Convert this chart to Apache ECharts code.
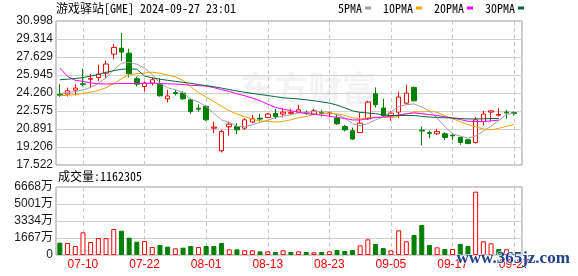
<!DOCTYPE html>
<html>
<head>
<meta charset="utf-8">
<script src="https://cdn.jsdelivr.net/npm/echarts@6/dist/echarts.min.js"></script>
<style>
html,body{margin:0;padding:0;background:#fff;}
#c{width:578px;height:276px;}
</style>
</head>
<body>
<div id="c"></div>
<script>
// ---- data ----
const dates = ['07-05','07-08','07-09','07-10','07-11','07-12','07-15','07-16','07-17','07-18',
  '07-19','07-22','07-23','07-24','07-25','07-26','07-29','07-30','07-31','08-01',
  '08-02','08-05','08-06','08-07','08-08','08-09','08-12','08-13','08-14','08-15',
  '08-16','08-19','08-20','08-21','08-22','08-23','08-26','08-27','08-28','08-29',
  '08-30','09-03','09-04','09-05','09-06','09-09','09-10','09-11','09-12','09-13',
  '09-16','09-17','09-18','09-19','09-20','09-23','09-24','09-25','09-26','09-27'];

// [open, close, low, high]
const candles = [
  [24.14,24.05,23.91,25.09],[24.16,24.47,23.93,24.77],[24.53,24.72,24.03,25.09],[25.12,25.07,24.87,26.52],
  [25.55,25.60,24.72,26.03],[25.71,26.03,25.40,26.90],[26.12,26.97,25.65,27.27],[27.90,28.52,27.43,28.83],
  [28.46,28.09,27.27,29.87],[27.99,26.06,25.71,28.40],[25.59,25.09,24.87,25.80],[24.87,25.19,24.40,25.34],
  [25.19,25.50,24.96,25.71],[25.09,24.00,23.93,25.65],[23.72,23.98,23.37,24.56],[24.30,24.20,24.03,24.56],
  [24.25,23.72,23.62,24.42],[23.62,22.53,22.31,23.78],[22.84,22.74,22.50,23.20],[23.00,21.75,21.66,23.10],
  [20.97,21.07,20.51,21.59],[18.85,20.66,18.69,20.81],[21.10,21.35,20.28,21.59],[21.12,20.81,20.41,21.44],
  [20.97,21.75,20.81,21.91],[21.54,21.85,21.44,22.22],[21.90,21.82,21.59,22.31],[21.97,22.29,21.89,22.38],
  [22.34,22.06,21.82,22.78],[22.29,22.47,21.97,22.85],[22.36,22.45,22.22,22.78],[22.47,22.69,22.38,23.16],
  [22.45,22.38,22.22,22.62],[22.29,22.59,22.22,22.78],[22.43,22.36,22.06,22.69],[22.32,22.40,22.00,22.50],
  [21.91,21.38,21.28,22.29],[21.12,20.81,20.66,21.28],[20.72,19.95,19.88,21.03],[20.56,21.44,20.51,22.38],
  [21.85,23.41,21.75,23.53],[24.19,23.16,22.90,24.78],[22.85,22.15,22.01,23.72],[22.13,22.38,21.66,22.59],
  [22.47,23.88,21.91,24.40],[23.31,24.25,23.16,25.03],[24.78,23.53,23.46,24.87],[20.78,20.70,19.35,21.12],
  [20.55,20.48,20.04,20.72],[20.44,20.66,20.35,20.91],[20.44,20.10,19.88,20.60],[20.32,20.25,19.88,20.51],
  [20.10,19.63,19.41,20.19],[19.88,19.53,19.47,19.94],[19.63,21.75,19.53,22.00],[21.59,22.29,21.22,22.59],
  [22.47,22.59,21.59,22.62],[22.18,22.25,22.06,22.85],[22.47,22.40,21.85,22.69],[22.42,22.36,22.15,22.53]
];

const ma5 = [24.20,24.30,24.40,24.55,24.78,25.18,25.68,26.44,27.04,27.13,
  26.95,26.59,25.99,25.17,24.75,24.57,24.28,23.69,23.43,22.99,
  22.36,21.75,21.51,21.13,21.13,21.28,21.52,21.70,21.95,22.10,
  22.22,22.39,22.41,22.52,22.49,22.48,22.22,21.91,21.38,21.20,
  21.40,21.75,22.02,22.51,23.00,23.16,23.24,22.95,22.57,21.92,
  21.09,20.44,20.22,20.03,20.25,20.69,21.16,21.68,22.26,22.38];
const ma10 = [24.00,24.05,24.12,24.22,24.35,24.50,24.75,25.15,25.60,25.96,
  26.06,26.13,26.21,26.11,25.94,25.76,25.44,24.84,24.30,23.87,
  23.47,23.02,22.60,22.28,22.06,21.82,21.63,21.61,21.54,21.61,
  21.75,21.95,22.06,22.24,22.30,22.35,22.31,22.16,21.95,21.85,
  21.94,21.99,21.97,21.94,22.10,22.28,22.50,22.49,22.54,22.46,
  22.13,21.84,21.59,21.30,21.09,20.89,20.80,20.95,21.15,21.32];
const ma20 = [26.60,25.80,25.45,25.35,25.20,25.12,25.10,25.12,25.15,25.15,
  25.15,25.17,25.17,25.15,25.12,25.10,25.05,24.98,24.95,24.91,
  24.77,24.57,24.41,24.19,24.00,23.79,23.53,23.22,22.92,22.74,
  22.61,22.48,22.33,22.26,22.18,22.09,21.97,21.88,21.74,21.73,
  21.85,21.97,22.01,22.09,22.20,22.32,22.40,22.32,22.24,22.15,
  22.04,21.91,21.78,21.62,21.59,21.59,21.65,21.72,null,null];
const ma30 = [25.50,25.55,25.62,25.70,25.85,25.98,26.20,26.35,26.48,26.51,
  26.48,25.85,25.68,25.55,25.45,25.35,25.26,25.17,25.05,24.95,
  24.85,24.72,24.58,24.45,24.33,24.22,24.12,24.02,23.92,23.81,
  23.76,23.70,23.62,23.54,23.43,23.31,23.13,22.87,22.60,22.44,
  22.39,22.32,22.21,22.15,22.15,22.15,22.15,22.08,22.01,21.97,
  21.94,21.93,21.87,21.83,21.83,21.84,21.87,21.87,null,null];

// volume in 万 shares, and direction (1 = up/red, 0 = down/green)
const volume = [1209,1177,883,2223,1275,1667,1650,2550,2386,1700,
  1307,1373,785,981,817,654,719,883,785,883,
  883,1177,556,556,458,458,360,360,294,458,
  294,360,294,261,294,360,490,392,490,948,
  1536,1079,686,458,2418,1340,1961,2942,980,752,
  588,588,1079,883,6210,1340,1144,588,556,116];
const volumeUp = [0,1,1,1,1,1,1,1,0,0, 0,1,1,0,0,1,0,0,1,0,
  0,0,1,0,1,1,0,1,0,1, 0,1,0,1,0,1,0,0,0,1,
  1,0,0,1,1,1,0,0,0,1, 0,1,0,0,1,1,1,0,1,0];

const dateTicks = ['07-10','07-22','08-01','08-13','08-23','09-05','09-17','09-27'];
const priceTicks = ['17.522','19.206','20.891','22.575','24.260','25.945','27.629','29.314','30.998'];
const volTicks = ['0','1667万','3334万','5001万','6668万'];
const volTickStep = 1667;
const maNames = ['5PMA','10PMA','20PMA','30PMA'];
const titleText = '游戏驿站[GME] 2024-09-27 23:01';
const volText = '成交量:1162305';

// ---- styles ----
const RED = '#ff0000', GREEN = '#008000';
const maColors = ['#a0a0a0','#f5a300','#ff00ff','#07683a'];
const monoCJK = '"Noto Sans Mono CJK SC","Noto Sans CJK SC","Liberation Mono",monospace';
const axisFont = '"Liberation Sans","Noto Sans CJK SC",sans-serif';

const chart = echarts.init(document.getElementById('c'), null, {renderer: 'canvas'});
const tickInterval = (idx) => dateTicks.indexOf(dates[idx]) >= 0;
const dashed = {show: true, interval: tickInterval, alignWithLabel: true,
  lineStyle: {color: '#c8c8c8', width: 1, type: [4, 3]}};
const solidSplit = {show: true, lineStyle: {color: '#d0d0d0', width: 1, type: 'solid'}};

const option = {
  animation: false,
  backgroundColor: '#fff',
  legend: {
    data: maNames.map((n, i) => ({name: n, itemStyle: {color: maColors[i]}})),
    left: 338, top: 2, padding: 0,
    align: 'right', icon: 'rect', itemWidth: 6, itemHeight: 3, itemGap: 12,
    textStyle: {fontSize: 12, color: '#000', fontFamily: monoCJK, padding: [0, -2, 0, 0]},
    selectedMode: false
  },
  grid: [
    {left: 56, top: 21, width: 466, height: 144, show: true, borderColor: '#999', borderWidth: 1},
    {left: 56, top: 21, width: 462, height: 144},
    {left: 56, top: 187, width: 466, height: 68, show: true, borderColor: '#999', borderWidth: 1},
    {left: 56, top: 187, width: 462, height: 68}
  ],
  xAxis: [
    {gridIndex: 0, type: 'value', min: 0, max: 1, show: false},
    {gridIndex: 1, type: 'category', data: dates, boundaryGap: true,
      axisLine: {show: false}, axisTick: {show: false}, axisLabel: {show: false}, splitLine: dashed},
    {gridIndex: 2, type: 'value', min: 0, max: 1, show: false},
    {gridIndex: 3, type: 'category', data: dates, boundaryGap: true,
      axisLine: {show: false}, axisTick: {show: false},
      axisLabel: {show: true, interval: tickInterval, color: '#ee0000', fontSize: 12,
        fontFamily: axisFont, margin: 4},
      splitLine: dashed}
  ],
  yAxis: [
    {gridIndex: 0, type: 'value', min: 0, max: priceTicks.length - 1, interval: 1,
      axisLine: {show: false}, axisTick: {show: false},
      axisLabel: {formatter: (v) => priceTicks[Math.round(v)], color: '#1a1a1a', fontSize: 12,
        fontFamily: axisFont, margin: 3, showMinLabel: true, showMaxLabel: true},
      splitLine: solidSplit},
    {gridIndex: 1, type: 'value', min: Number(priceTicks[0]), max: Number(priceTicks[priceTicks.length - 1]),
      show: false, splitLine: {show: false}},
    {gridIndex: 2, type: 'value', min: 0, max: volTickStep * (volTicks.length - 1), interval: volTickStep,
      axisLine: {show: false}, axisTick: {show: false},
      axisLabel: {formatter: (v) => volTicks[Math.round(v / volTickStep)], color: '#1a1a1a', fontSize: 12,
        fontFamily: axisFont, margin: 3, showMinLabel: true, showMaxLabel: true},
      splitLine: solidSplit},
    {gridIndex: 3, type: 'value', min: 0, max: volTickStep * (volTicks.length - 1),
      show: false, splitLine: {show: false}}
  ],
  series: [
    {type: 'candlestick', name: 'K', xAxisIndex: 1, yAxisIndex: 1, data: candles,
      barWidth: 5,
      itemStyle: {color: '#ffffff', color0: GREEN, borderColor: RED, borderColor0: GREEN, borderWidth: 1}},
    ...[ma5, ma10, ma20, ma30].map((d, i) => ({
      type: 'line', name: maNames[i], xAxisIndex: 1, yAxisIndex: 1, data: d,
      symbol: 'none', showSymbol: false, smooth: false,
      lineStyle: {color: maColors[i], width: 1}, itemStyle: {color: maColors[i]}, z: 3
    })),
    {type: 'bar', name: 'VOL', xAxisIndex: 3, yAxisIndex: 3, barWidth: 5,
      data: volume.map((v, i) => ({
        value: v,
        itemStyle: volumeUp[i]
          ? {color: '#ffffff', borderColor: RED, borderWidth: 1}
          : {color: GREEN, borderColor: GREEN, borderWidth: 1}
      }))}
  ],
  graphic: [
    {type: 'text', left: 56, top: 2, z: 10,
      style: {text: titleText, font: '12px ' + monoCJK, fill: '#000'}},
    {type: 'text', left: 58, top: 170, z: 10,
      style: {text: volText, font: '12px ' + monoCJK, fill: '#000'}},
    {type: 'text', left: 240, top: 71, z: -1, silent: true,
      style: {text: '东方财富', font: 'bold 34px "Noto Sans CJK SC"', fill: 'rgba(200,200,212,0.22)'}},
    {type: 'text', left: 456, top: 250, z: 20, silent: true,
      style: {text: 'www.365jz.com', font: 'bold 17px "Liberation Serif", serif',
        fill: '#1f3f8f', stroke: '#ffffff', lineWidth: 1}}
  ]
};
chart.setOption(option);
</script>
</body>
</html>
